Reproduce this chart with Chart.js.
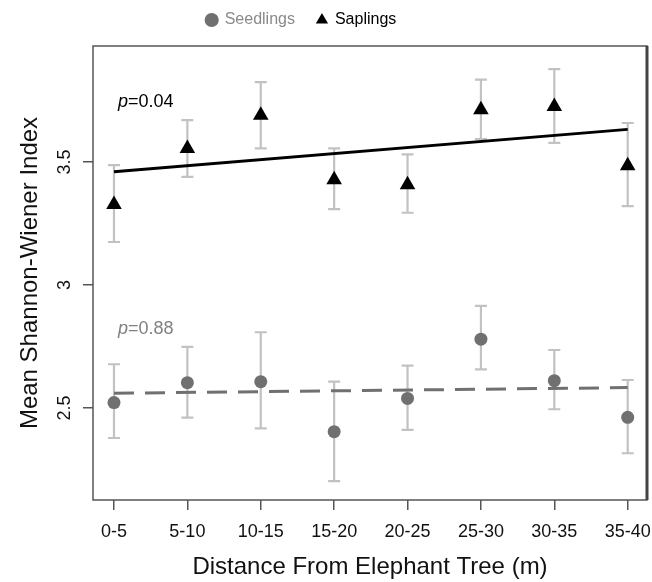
<!DOCTYPE html>
<html>
<head>
<meta charset="utf-8">
<script src="https://cdn.jsdelivr.net/npm/chart.js@4/dist/chart.umd.min.js"></script>
<style>
  html, body { margin: 0; padding: 0; background: #fff; }
  #wrap { width: 652px; height: 582px; }
</style>
</head>
<body>
<div id="wrap"><canvas id="myChart"></canvas></div>
<script>
const categories = ['0-5', '5-10', '10-15', '15-20', '20-25', '25-30', '30-35', '35-40'];

const seedlingMeans = [2.522, 2.603, 2.607, 2.404, 2.539, 2.780, 2.611, 2.462];
const seedlingLower = [2.378, 2.461, 2.417, 2.203, 2.411, 2.657, 2.495, 2.316];
const seedlingUpper = [2.678, 2.749, 2.808, 2.607, 2.672, 2.915, 2.736, 2.614];

const saplingMeans = [3.328, 3.555, 3.690, 3.428, 3.408, 3.713, 3.726, 3.485];
const saplingLower = [3.175, 3.440, 3.556, 3.309, 3.294, 3.593, 3.578, 3.321];
const saplingUpper = [3.488, 3.671, 3.825, 3.556, 3.531, 3.835, 3.878, 3.659];

const trendX = [0, 7];
const seedlingTrend = [2.560, 2.583];
const saplingTrend = [3.461, 3.633];

const yTicks = [2.5, 3, 3.5];
const pValues = ['0.04', '0.88'];
const pValueY = [3.746, 2.821];

const FONT = "'Liberation Sans', Arial, sans-serif";
const SEED_COLOR = '#707070';

function points(values) {
    return values.map((v, i) => ({ x: i, y: v }));
}

// legend sits a bit left of centre and reserves a fixed band on top
const legendPlace = {
    id: 'legendPlace',
    beforeLayout(chart) {
        const lg = chart.legend;
        if (!lg || lg._fixed) return;
        const fit = lg.fit;
        lg.fit = function () {
            fit.call(this);
            this.height = 46;
        };
        lg._fixed = true;
    },
    afterLayout(chart) {
        const lg = chart.legend;
        lg.top -= 10;
        lg.left -= 44;
    }
};

// error bars under the points
const errorBars = {
    id: 'errorBars',
    beforeDatasetsDraw(chart) {
        const { ctx, scales: { x, y } } = chart;
        ctx.save();
        ctx.strokeStyle = '#c2c2c2';
        ctx.lineWidth = 2.2;
        [[seedlingLower, seedlingUpper], [saplingLower, saplingUpper]].forEach(([lo, hi]) => {
            lo.forEach((v, i) => {
                const px = x.getPixelForValue(i);
                const y1 = y.getPixelForValue(v);
                const y2 = y.getPixelForValue(hi[i]);
                ctx.beginPath();
                ctx.moveTo(px, y1); ctx.lineTo(px, y2);
                ctx.moveTo(px - 6, y1); ctx.lineTo(px + 6, y1);
                ctx.moveTo(px - 6, y2); ctx.lineTo(px + 6, y2);
                ctx.stroke();
            });
        });
        ctx.restore();
    }
};

// p value notes and the plot frame
const extras = {
    id: 'extras',
    afterDatasetsDraw(chart) {
        const { ctx, scales: { x, y } } = chart;
        ctx.save();
        ctx.textBaseline = 'middle';
        ctx.textAlign = 'left';
        const colors = ['#000', '#808080'];
        pValues.forEach((p, i) => {
            let px = x.getPixelForValue(0) + 4;
            const py = y.getPixelForValue(pValueY[i]);
            ctx.fillStyle = colors[i];
            ctx.font = 'italic 18px ' + FONT;
            ctx.fillText('p', px, py);
            px += ctx.measureText('p').width;
            ctx.font = '18px ' + FONT;
            ctx.fillText('=' + p, px, py);
        });
        ctx.restore();
    },
    afterDraw(chart) {
        const { ctx, chartArea: a } = chart;
        ctx.save();
        ctx.strokeStyle = '#555';
        ctx.lineWidth = 1.5;
        ctx.strokeRect(a.left, a.top, a.right - a.left, a.bottom - a.top);
        ctx.strokeStyle = '#444';
        ctx.lineWidth = 3;
        ctx.beginPath();
        ctx.moveTo(a.right, a.top);
        ctx.lineTo(a.right, a.bottom);
        ctx.stroke();
        ctx.restore();
    }
};

const ctx = document.getElementById('myChart').getContext('2d');
const chart = new Chart(ctx, {
    type: 'scatter',
    data: {
        datasets: [{
            label: 'Seedlings',
            data: points(seedlingMeans),
            pointStyle: 'circle',
            pointRadius: 6.5,
            pointHoverRadius: 6.5,
            backgroundColor: SEED_COLOR,
            borderColor: SEED_COLOR,
            borderWidth: 0
        }, {
            label: 'Saplings',
            data: points(saplingMeans),
            pointStyle: 'triangle',
            pointRadius: 9,
            pointHoverRadius: 9,
            backgroundColor: '#000',
            borderColor: '#000',
            borderWidth: 0
        }, {
            label: 'seedling trend',
            type: 'line',
            data: trendX.map((v, i) => ({ x: v, y: seedlingTrend[i] })),
            borderColor: SEED_COLOR,
            borderWidth: 3,
            borderDash: [20, 11],
            pointRadius: 0,
            fill: false
        }, {
            label: 'sapling trend',
            type: 'line',
            data: trendX.map((v, i) => ({ x: v, y: saplingTrend[i] })),
            borderColor: '#000',
            borderWidth: 3,
            pointRadius: 0,
            fill: false
        }]
    },
    options: {
        responsive: true,
        maintainAspectRatio: false,
        animation: false,
        layout: { autoPadding: false, padding: { top: 0, right: 5, left: 0, bottom: 0 } },
        plugins: {
            tooltip: { enabled: false },
            legend: {
                position: 'top',
                labels: {
                    usePointStyle: true,
                    boxWidth: 10,
                    boxHeight: 10,
                    padding: 22,
                    font: { size: 16, family: FONT },
                    filter: item => item.datasetIndex < 2,
                    generateLabels(chart) {
                        const items = Chart.defaults.plugins.legend.labels.generateLabels(chart);
                        items.forEach(it => {
                            it.fontColor = it.datasetIndex === 0 ? '#8a8a8a' : '#000';
                        });
                        return items;
                    }
                }
            }
        },
        scales: {
            x: {
                type: 'linear',
                min: -0.286,
                max: 7.263,
                afterBuildTicks: scale => {
                    scale.ticks = categories.map((c, i) => ({ value: i }));
                },
                afterFit: scale => {
                    scale.height = 82;
                    scale.paddingLeft = 0;
                    scale.paddingRight = 0;
                },
                ticks: {
                    callback: v => categories[v],
                    color: '#111',
                    padding: 11,
                    maxRotation: 0,
                    autoSkip: false,
                    font: { size: 18, family: FONT }
                },
                grid: { drawOnChartArea: false, drawTicks: true, tickLength: 10, color: '#555', lineWidth: 1.5 },
                border: { display: false },
                title: {
                    display: true,
                    text: 'Distance From Elephant Tree (m)',
                    color: '#111',
                    font: { size: 24, family: FONT },
                    padding: { top: 0, bottom: 0 }
                }
            },
            y: {
                type: 'linear',
                min: 2.126,
                max: 3.972,
                afterBuildTicks: scale => {
                    scale.ticks = yTicks.map(v => ({ value: v }));
                },
                afterFit: scale => {
                    scale.width = 93;
                    scale.paddingTop = 0;
                    scale.paddingBottom = 0;
                },
                ticks: {
                    callback: v => String(v),
                    color: '#111',
                    padding: 5,
                    minRotation: 90,
                    maxRotation: 90,
                    crossAlign: 'center',
                    font: { size: 18, family: FONT }
                },
                grid: { drawOnChartArea: false, drawTicks: true, tickLength: 10, color: '#555', lineWidth: 1.5 },
                border: { display: false },
                title: {
                    display: true,
                    text: 'Mean Shannon-Wiener Index',
                    color: '#111',
                    font: { size: 24, family: FONT },
                    padding: { top: 16, bottom: 0 }
                }
            }
        }
    },
    plugins: [legendPlace, errorBars, extras]
});
</script>
</body>
</html>
